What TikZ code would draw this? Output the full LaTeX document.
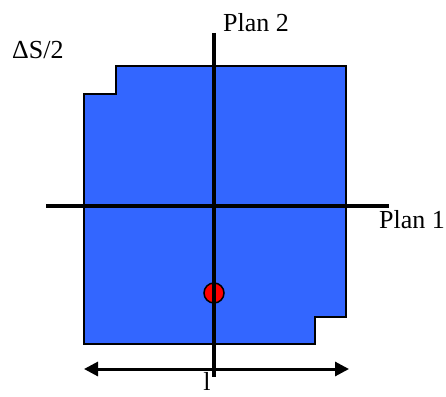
\documentclass[tikz,border=0pt]{standalone}
\usepackage{fontspec}
\setmainfont{Liberation Serif}
\usetikzlibrary{arrows.meta}
\definecolor{planblue}{RGB}{51,102,255}
\begin{document}
\begin{tikzpicture}[x=1pt,y=-1pt,
  axis/.style={line width=3.6pt},
  lbl/.style={font=\fontsize{26}{30}\selectfont, inner sep=0pt},
  region/.style={fill=planblue, draw=black, line width=1.8pt},
  dim/.style={line width=3pt, {Triangle[length=14pt,width=14pt]}-{Triangle[length=14pt,width=14pt]}},
  dot/.style={circle, fill=red, draw=black, line width=1.5pt, minimum size=20pt, inner sep=0pt}]
\useasboundingbox (0,0) rectangle (446,396);
\draw[region] (84,94) -- (116,94) -- (116,66) -- (346,66) -- (346,317) -- (315,317) -- (315,344) -- (84,344) -- cycle;
\node[dot] (pt) at (214,293) {};
\coordinate (vtop) at (214,33);
\coordinate (vbot) at (214,377);
\coordinate (hleft) at (46,206);
\coordinate (hright) at (389,206);
\coordinate (aleft) at (84,369);
\coordinate (aright) at (349,369);
\draw[axis] (vtop) -- (vbot);
\draw[axis] (hleft) -- (hright);
\draw[dim] (aleft) -- (aright);
\node[lbl, anchor=base west] (p2) at (223,32) {Plan 2};
\node[lbl, anchor=base west] (p1) at (379,228) {Plan 1};
\node[lbl, anchor=base west] (ds) at (12,59) {ΔS/2};
\node[lbl, anchor=base] (len) at (207,390) {l};
\end{tikzpicture}
\end{document}
